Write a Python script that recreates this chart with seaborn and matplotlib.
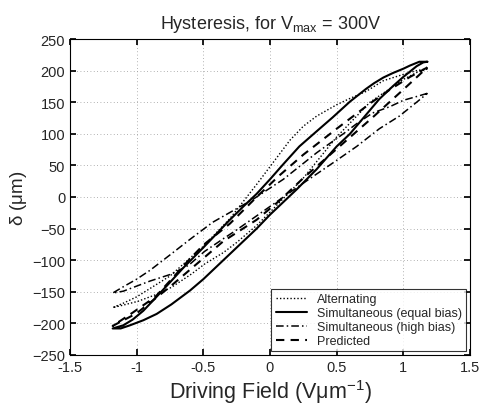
import numpy as np
import pandas as pd
import matplotlib
matplotlib.use("Agg")
import matplotlib.pyplot as plt
import seaborn as sns

# Equal bias (solid)
eq_up_x = [1.18, 1.12, 1.05, 1.00, 0.92, 0.85, 0.78, 0.72, 0.60, 0.47, 0.35, 0.22, 0.10, 0.00, -0.10, -0.20, -0.31, -0.40, -0.50, -0.65, -0.75, -0.86, -0.95, -1.03, -1.10, -1.18]
eq_up_y = [214, 214, 208, 203, 196, 189, 180, 171, 151, 126, 104, 80, 52, 28, 5, -15, -38, -58, -80, -112, -135, -160, -180, -194, -203, -208]
eq_lo_x = [-1.18, -1.12, -1.05, -0.95, -0.85, -0.74, -0.60, -0.50, -0.40, -0.30, -0.20, -0.10, 0.00, 0.10, 0.20, 0.35, 0.50, 0.60, 0.70, 0.82, 0.92, 1.00, 1.10, 1.15, 1.18]
eq_lo_y = [-208, -208, -203, -195, -185, -170, -148, -130, -110, -90, -70, -50, -28, -8, 12, 44, 80, 100, 125, 155, 175, 190, 207, 213, 214]

# Alternating (dotted)
alt_up_x = [1.18, 1.10, 1.00, 0.85, 0.72, 0.60, 0.50, 0.35, 0.25, 0.15, 0.05, -0.10, -0.30, -0.50, -0.75, -1.00, -1.10, -1.18]
alt_up_y = [203, 200, 194, 184, 167, 156, 146, 128, 112, 90, 62, 20, -34, -78, -125, -158, -168, -175]
alt_lo_x = [-1.18, -1.10, -0.99, -0.85, -0.74, -0.59, -0.49, -0.35, -0.25, -0.10, 0.00, 0.25, 0.50, 0.75, 1.00, 1.10, 1.18]
alt_lo_y = [-175, -171, -165, -154, -143, -122, -106, -88, -72, -45, -24, 30, 95, 150, 186, 197, 203]

# High bias (dash-dot)
hb_up_x = [1.18, 1.10, 1.00, 0.90, 0.77, 0.65, 0.55, 0.35, 0.10, -0.13, -0.28, -0.43, -0.60, -0.74, -0.90, -1.00, -1.10, -1.18]
hb_up_y = [164, 159, 153, 143, 133, 116, 100, 70, 28, -4, -22, -40, -67, -90, -116, -130, -142, -152]
hb_lo_x = [-1.18, -1.10, -1.05, -0.90, -0.74, -0.61, -0.49, -0.35, -0.25, 0.00, 0.25, 0.50, 0.65, 0.82, 0.97, 1.10, 1.18]
hb_lo_y = [-152, -149, -145, -133, -122, -108, -86, -66, -52, -15, 22, 58, 80, 108, 128, 150, 164]

# Predicted (dashed)
pr_up_x = [1.18, 1.05, 0.90, 0.75, 0.50, 0.25, 0.07, -0.10, -0.30, -0.50, -0.61, -0.73, -0.86, -1.03, -1.18]
pr_up_y = [205, 190, 170, 148, 108, 67, 34, 0, -42, -76, -100, -128, -158, -183, -204]
pr_lo_x = [-1.18, -1.00, -0.75, -0.50, -0.35, -0.10, 0.07, 0.25, 0.50, 0.77, 1.00, 1.18]
pr_lo_y = [-204, -184, -142, -97, -70, -36, -6, 30, 76, 126, 170, 205]

labels = ["Alternating", "Simultaneous (equal bias)", "Simultaneous (high bias)", "Predicted"]

sns.set_theme(style="white")
plt.rcParams['font.family'] = ['Liberation Sans', 'DejaVu Sans']
plt.rcParams['mathtext.fontset'] = 'custom'
plt.rcParams['mathtext.rm'] = 'Liberation Sans'
plt.rcParams['mathtext.it'] = 'Liberation Sans'

fig = plt.figure(figsize=(4.81, 4.10), dpi=100)
ax = fig.add_axes([70/481, (410-356)/410, 400/481, 316/410])

series = [
    (labels[0], alt_up_x + alt_lo_x, alt_up_y + alt_lo_y, (0, (1, 1.5)), 1.0),
    (labels[1], eq_up_x + eq_lo_x, eq_up_y + eq_lo_y, '-', 1.5),
    (labels[2], hb_up_x + hb_lo_x, hb_up_y + hb_lo_y, (0, (5, 2, 1, 2)), 1.1),
    (labels[3], pr_up_x + pr_lo_x, pr_up_y + pr_lo_y, (0, (4, 3)), 1.5),
]
for lab, xs, ys, ls, lw in series:
    df = pd.DataFrame({"x": xs, "y": ys})
    sns.lineplot(data=df, x="x", y="y", sort=False, estimator=None, color="black",
                 linestyle=ls, linewidth=lw, ax=ax, label=lab)

ax.set_xlim(-1.5, 1.5)
ax.set_ylim(-250, 250)
ax.set_xticks(np.arange(-1.5, 1.51, 0.5))
ax.set_xticklabels(["-1.5", "-1", "-0.5", "0", "0.5", "1", "1.5"])
ax.set_yticks(np.arange(-250, 251, 50))
ax.grid(True, linestyle=(0, (1, 3)), color="#999999", linewidth=0.6)
ax.tick_params(direction="in", top=True, right=True, labelsize=10.5, length=4, color="black",
               bottom=True, left=True)
for s in ax.spines.values():
    s.set_color("black")
    s.set_linewidth(0.8)
ax.set_xlabel("Driving Field (V$\\mu$m$^{-1}$)", fontsize=15.5, labelpad=2)
ax.set_ylabel("$\\delta$ ($\\mu$m)", fontsize=13.5, labelpad=2)
ax.set_title("Hysteresis, for V$_{\\rm max}$ = 300V", fontsize=13, pad=8)
leg = ax.legend(loc="lower right", fontsize=9, frameon=True, fancybox=False,
                edgecolor="black", handlelength=2.5, borderaxespad=0.3,
                labelspacing=0.15, borderpad=0.35)
leg.get_frame().set_linewidth(0.8)
fig.savefig("out.png", dpi=100)
